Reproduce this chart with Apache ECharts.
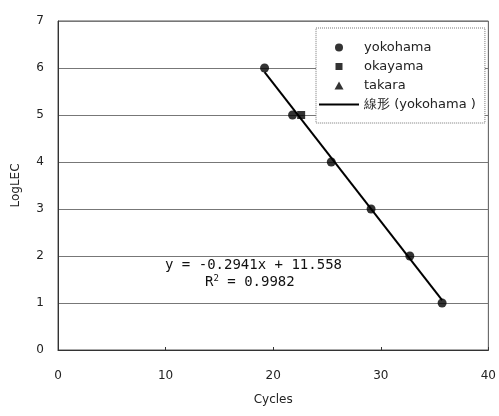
<!DOCTYPE html>
<html>
<head>
<meta charset="utf-8">
<script src="https://cdn.jsdelivr.net/npm/echarts@6/dist/echarts.min.js"></script>
<style>
html,body{margin:0;padding:0;background:#fff;}
#chart{width:499px;height:416px;}
</style>
</head>
<body>
<div id="chart"></div>
<script>
// 数据
var yokohamaX = [19.2, 21.8, 25.4, 29.1, 32.7, 35.7];
var yokohamaY = [6, 5, 4, 3, 2, 1];
var okayamaX = [22.6];
var okayamaY = [5];
var takaraX = [];
var takaraY = [];
// 趋势线端点
var trendX = [19.2, 35.7];
var trendY = [5.91, 1.06];
var seriesNames = ['yokohama', 'okayama', 'takara', '線形 (yokohama )'];
var eqText = 'y = -0.2941x + 11.558';
var r2Text = '0.9982';

function pairs(xs, ys){
    var out = [];
    for (var i = 0; i < xs.length; i++) out.push([xs[i], ys[i]]);
    return out;
}

var font = 'DejaVu Sans';
var mono = 'DejaVu Sans Mono';
// 图例图标: 用空点撑开外框, 保持方块/三角形不变形
var rectIcon = 'path://M0,0 L0,0 M40,8 L40,8 M16.5,0.5 L23.5,0.5 L23.5,7.5 L16.5,7.5 Z';
var triIcon = 'path://M0,0 L0,0 M40,8 L40,8 M20,0 L24.5,8 L15.5,8 Z';
var lineIcon = 'path://M0,0 L0,0 M40,8 L40,8 M0,3 L40,3 L40,5 L0,5 Z';

var chart = echarts.init(document.getElementById('chart'));
chart.setOption({
    animation: false,
    backgroundColor: '#fff',
    textStyle: {fontFamily: font, color: '#000'},
    grid: {
        left: 58, right: 10, top: 21, bottom: 66,
        show: true, borderColor: '#555', borderWidth: 1
    },
    xAxis: {
        type: 'value', min: 0, max: 40, interval: 10,
        name: 'Cycles', nameLocation: 'middle', nameGap: 44,
        nameTextStyle: {fontSize: 12, color: '#222'},
        axisLine: {show: true, lineStyle: {color: '#333'}},
        axisTick: {show: true, inside: true, length: 3, lineStyle: {color: '#333'}},
        axisLabel: {fontSize: 12, color: '#222', margin: 20},
        splitLine: {show: false}
    },
    yAxis: {
        type: 'value', min: 0, max: 7, interval: 1,
        name: 'LogLEC', nameLocation: 'middle', nameGap: 36,
        nameTextStyle: {fontSize: 12, color: '#222'},
        axisLine: {show: true, lineStyle: {color: '#333'}},
        axisTick: {show: false},
        axisLabel: {fontSize: 12, color: '#222', margin: 14},
        splitLine: {show: true, lineStyle: {color: '#777', width: 1}}
    },
    legend: {
        orient: 'vertical',
        left: 316, top: 28,
        padding: [13, 9, 12, 3],
        backgroundColor: '#fff',
        borderColor: '#777', borderWidth: 1, borderType: 'dotted',
        itemWidth: 40, itemHeight: 8, itemGap: 6,
        textStyle: {fontSize: 13, color: '#222', fontFamily: font, lineHeight: 13},
        data: [
            {name: seriesNames[0], icon: 'circle'},
            {name: seriesNames[1], icon: rectIcon},
            {name: seriesNames[2], icon: triIcon},
            {name: seriesNames[3], icon: lineIcon}
        ]
    },
    graphic: [{
        type: 'text', left: 165, top: 258, z: 100,
        style: {text: eqText, fontFamily: mono, fontSize: 14, fill: '#111'}
    }, {
        type: 'text', left: 205, top: 274, z: 100,
        style: {
            text: 'R{sup|2} = ' + r2Text,
            fontFamily: mono, fontSize: 14, fill: '#111',
            rich: {sup: {fontSize: 9, verticalAlign: 'top', padding: [0, 0, 8, 0], fontFamily: mono, fill: '#111'}}
        }
    }],
    series: [{
        name: seriesNames[3], type: 'line',
        data: pairs(trendX, trendY),
        symbol: 'none', z: 3,
        lineStyle: {color: '#000', width: 2},
        itemStyle: {color: '#000'}
    }, {
        name: seriesNames[0], type: 'scatter',
        data: pairs(yokohamaX, yokohamaY),
        symbol: 'circle', symbolSize: 9, z: 4,
        itemStyle: {color: '#000'}
    }, {
        name: seriesNames[1], type: 'scatter',
        data: pairs(okayamaX, okayamaY),
        symbol: 'rect', symbolSize: 8, z: 4,
        itemStyle: {color: '#000'}
    }, {
        name: seriesNames[2], type: 'scatter',
        data: pairs(takaraX, takaraY),
        symbol: 'triangle', symbolSize: 9, z: 4,
        itemStyle: {color: '#000'}
    }]
});
</script>
</body>
</html>
